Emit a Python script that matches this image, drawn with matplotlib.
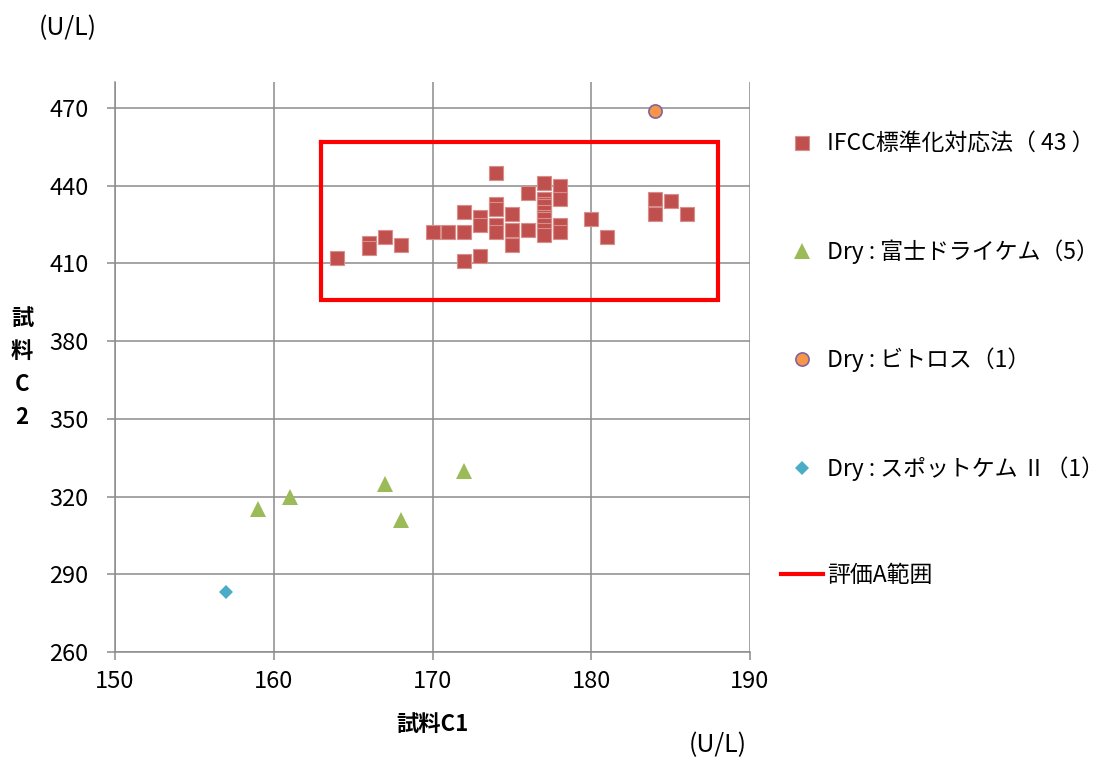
import matplotlib
matplotlib.use("Agg")
import matplotlib.pyplot as plt

plt.rcParams["font.family"] = ["Noto Sans CJK JP", "DejaVu Sans"]

# IFCC standardized methods (43)
ifcc_c1 = [164, 166, 166, 167, 168, 170, 171, 172, 172, 172,
           173, 173, 173, 174, 174, 174, 174, 174, 175, 175,
           175, 176, 176, 177, 177, 177, 177, 177, 177, 177,
           177, 177, 177, 178, 178, 178, 178, 180, 181, 184,
           184, 185, 186]
ifcc_c2 = [412, 418, 416, 420, 417, 422, 422, 430, 422, 411,
           428, 425, 413, 445, 433, 431, 425, 422, 429, 423,
           417, 437, 423, 441, 435, 433, 432, 430, 428, 427,
           425, 423, 421, 440, 435, 425, 422, 427, 420, 435,
           429, 434, 429]

# Dry chemistry
fuji_c1 = [159, 161, 167, 168, 172]
fuji_c2 = [315, 320, 325, 311, 330]
vitros_c1 = [184]
vitros_c2 = [469]
spot_c1 = [157]
spot_c2 = [283]

# evaluation A range (rectangle corners)
box_c1 = [163, 188, 188, 163, 163]
box_c2 = [457, 457, 396, 396, 457]

x_ticks = [150, 160, 170, 180, 190]
y_ticks = [260, 290, 320, 350, 380, 410, 440, 470]

fig = plt.figure(figsize=(11.1, 7.6), dpi=100)
ax = fig.add_axes([115 / 1110, 108 / 760, 635 / 1110, 570 / 760])

ax.plot(ifcc_c1, ifcc_c2, "s", color="#C0504D", markersize=9.5,
        markeredgecolor="#D98E8C", markeredgewidth=0.8,
        label="IFCC標準化対応法（ 43 ）", zorder=3)
ax.plot(fuji_c1, fuji_c2, "^", color="#9BBB59", markersize=11,
        markeredgewidth=0, label="Dry : 富士ドライケム（5）", zorder=3)
ax.plot(vitros_c1, vitros_c2, "o", color="#F79646", markersize=9.5,
        markeredgecolor="#8064A2", markeredgewidth=1.2,
        label="Dry : ビトロス（1）", zorder=3)
ax.plot(spot_c1, spot_c2, "D", color="#4BACC6", markersize=7.5,
        markeredgewidth=0, label="Dry : スポットケム Ⅱ（1）", zorder=3)
ax.plot(box_c1, box_c2, "-", color="#FF0000", linewidth=3,
        solid_joinstyle="miter", label="評価A範囲", zorder=4)

ax.set_xlim(150, 190)
ax.set_ylim(260, 480)
ax.set_xticks(x_ticks)
ax.set_yticks(y_ticks)
ax.grid(True, color="#8C8C8C", linewidth=1.1)
ax.set_axisbelow(True)
for side in ["top", "right"]:
    ax.spines[side].set_visible(False)
for side in ["left", "bottom"]:
    ax.spines[side].set_color("#8C8C8C")
    ax.spines[side].set_linewidth(1.1)
ax.tick_params(direction="out", length=6, width=1.1, color="#8C8C8C",
               labelsize=17)
ax.tick_params(axis="y", pad=13)
ax.tick_params(axis="x", pad=7)

ax.set_xlabel("試料C1", fontsize=16, fontweight="bold", labelpad=14)
fig.text(22 / 1110, 1 - 368 / 760, "試\n料\nC\n2", fontsize=16,
         fontweight="bold", ha="center", va="center", linespacing=1.55)
fig.text(68 / 1110, 1 - 28 / 760, "(U/L)", fontsize=18, ha="center", va="center")
fig.text(718 / 1110, 1 - 745 / 760, "(U/L)", fontsize=18, ha="center", va="center")

ax.legend(loc="center left", bbox_to_anchor=(781 / 1110, 1 - 360 / 760),
          bbox_transform=fig.transFigure, frameon=False, fontsize=16.5,
          handlelength=1.85, handletextpad=0.15, labelspacing=3.65,
          borderpad=0, borderaxespad=0)

fig.savefig("out.png", dpi=100)
